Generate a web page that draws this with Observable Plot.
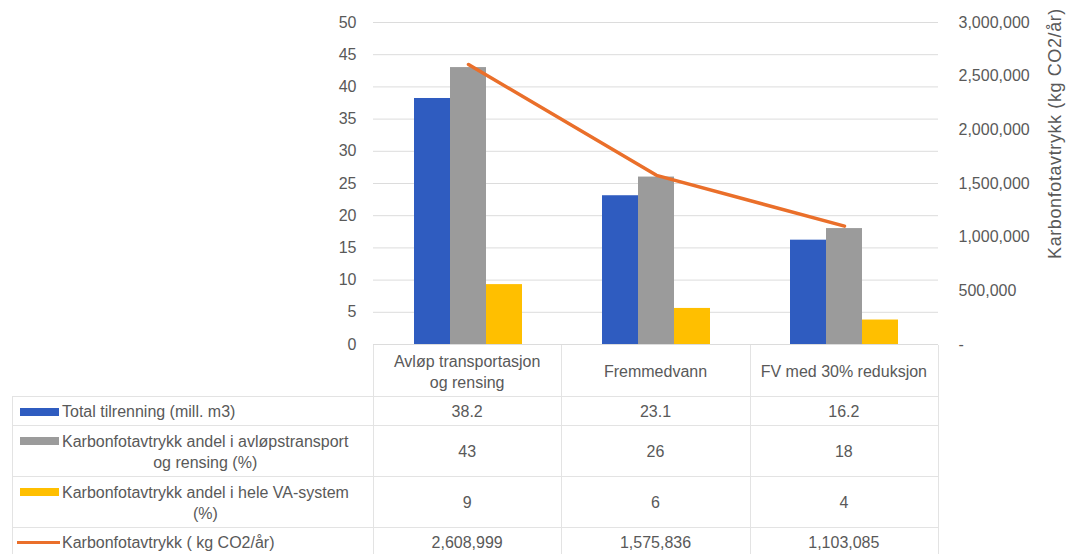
<!DOCTYPE html>
<html><head><meta charset="utf-8">
<script src="https://cdn.jsdelivr.net/npm/d3@7"></script>
<script src="https://cdn.jsdelivr.net/npm/@observablehq/plot@0.6"></script>
<style>
body{margin:0;background:#fff;font-family:"Liberation Sans",Arial,sans-serif;color:#595959;}
#wrap{position:relative;width:1066px;height:554px;overflow:hidden;background:#fff;}
.layer{position:absolute;left:0;top:0;}
.abs{position:absolute;}
.txt{position:absolute;font-size:16px;line-height:21px;white-space:pre;text-align:center;color:#595959;}
.hl{position:absolute;height:1px;background:#e3e3e3;}
.vl{position:absolute;width:1px;background:#e3e3e3;}
</style></head><body><div id="wrap"></div>
<script>
// ---- data ----
const categories = ["Avløp transportasjon\nog rensing", "Fremmedvann", "FV med 30% reduksjon"];
const seriesNames = [
  "Total tilrenning (mill. m3)",
  "Karbonfotavtrykk andel i avløpstransport\nog rensing (%)",
  "Karbonfotavtrykk andel i hele VA-system\n(%)",
  "Karbonfotavtrykk ( kg CO2/år)"
];
const totalTilrenning = [38.2, 23.1, 16.2];
const andelAvlopstransport = [43, 26, 18];
const andelHeleVA = [9.3, 5.6, 3.8];
const karbonfotavtrykk = [2608999, 1575836, 1103085];
const leftTicks = [0, 5, 10, 15, 20, 25, 30, 35, 40, 45, 50];
const rightTicks = [0, 500000, 1000000, 1500000, 2000000, 2500000, 3000000];
const rightAxisTitle = "Karbonfotavtrykk (kg CO2/år)";
const colors = ["#2f5cc0", "#9b9b9b", "#ffbf00", "#ea6f2a"];

// ---- layout ----
const W = 1066, H = 346;
const mL = 373, mR = 128, mT = 22, mB = 2;
const font = {background: "transparent", fontFamily: "Liberation Sans, Arial, sans-serif", fontSize: "16px", color: "#595959", overflow: "visible"};
const common = {width: W, height: H, marginTop: mT, marginBottom: mB, marginLeft: mL, marginRight: mR, style: font};

const barSeries = [totalTilrenning, andelAvlopstransport, andelHeleVA];
const barData = categories.flatMap((c, i) => barSeries.map((s, j) => ({cat: c, series: j, value: s[i]})));
const lineData = categories.map((c, i) => ({cat: c, value: karbonfotavtrykk[i]}));

const wrap = document.getElementById("wrap");

// Layer 1: grid + left axis
const p1 = Plot.plot({
  ...common,
  x: {domain: categories, axis: null},
  y: {domain: [0, 50], axis: null},
  marks: [
    Plot.ruleY(leftTicks, {stroke: "#dcdcdc", strokeWidth: 1}),
    Plot.axisY({ticks: leftTicks, anchor: "left", tickSize: 0, tickPadding: 17, label: null, fill: "#595959", fontSize: 16})
  ]
});
p1.classList.add("layer");
wrap.appendChild(p1);

// Layer 2: grouped bars (faceted)
const p2 = Plot.plot({
  ...common,
  fx: {domain: categories, paddingInner: 0.4265, paddingOuter: 0.2133, axis: null},
  x: {domain: [0, 1, 2], padding: 0, axis: null},
  y: {domain: [0, 50], axis: null},
  color: {domain: [0, 1, 2], range: colors.slice(0, 3)},
  marks: [
    Plot.barY(barData, {fx: "cat", x: "series", y: "value", fill: "series"})
  ]
});
p2.classList.add("layer");
wrap.appendChild(p2);

// Layer 3: line + right axis
const p3 = Plot.plot({
  ...common,
  x: {type: "point", domain: categories, padding: 0.5, axis: null},
  y: {domain: [0, 3000000], axis: null},
  marks: [
    Plot.axisY({ticks: rightTicks, anchor: "right", tickSize: 0, tickPadding: 20, label: null, fill: "#595959", fontSize: 16,
      textAnchor: "start", tickFormat: d => d === 0 ? "-" : d3.format(",")(d)}),
    Plot.line(lineData, {x: "cat", y: "value", stroke: colors[3], strokeWidth: 3.5})
  ]
});
p3.classList.add("layer");
wrap.appendChild(p3);

// Right axis title
const t = document.createElement("div");
t.className = "txt";
t.style.fontSize = "18px";
t.style.letterSpacing = "0.6px";
t.textContent = rightAxisTitle;
wrap.appendChild(t);
const tw = t.getBoundingClientRect().width, th = t.getBoundingClientRect().height;
t.style.left = (1055 - tw / 2) + "px";
t.style.top = (133 - th / 2) + "px";
t.style.transform = "rotate(-90deg)";

// ---- data table ----
const tableLeft = 12, colX0 = mL, colW = (W - mR - mL) / 3;
const rowY = [345, 396, 425, 476, 527, 556];
const lineH = 21;
function add(cls, css) { const d = document.createElement("div"); d.className = cls; Object.assign(d.style, css); wrap.appendChild(d); return d; }
// grid lines
for (let r = 1; r < rowY.length; r++) add("hl", {left: tableLeft + "px", top: rowY[r] + "px", width: (W - mR - tableLeft) + "px"});
for (let c = 0; c <= 3; c++) add("vl", {left: (colX0 + c * colW) + "px", top: rowY[0] + "px", height: (rowY[5] - rowY[0]) + "px"});
add("vl", {left: tableLeft + "px", top: rowY[1] + "px", height: (rowY[5] - rowY[1]) + "px"});

function centeredText(str, cx, cy) {
  const d = add("txt", {});
  d.textContent = str;
  const r = d.getBoundingClientRect();
  d.style.left = (cx - r.width / 2) + "px";
  d.style.top = (cy - r.height / 2) + "px";
  return d;
}
// header: categories
categories.forEach((c, i) => centeredText(c, colX0 + (i + 0.5) * colW, (rowY[0] + rowY[1]) / 2 + 1));
// rows
const rowValues = [
  totalTilrenning.map(d3.format(".1f")),
  andelAvlopstransport.map(d3.format(".0f")),
  andelHeleVA.map(d3.format(".0f")),
  karbonfotavtrykk.map(d3.format(","))
];
rowValues.forEach((vals, r) => {
  const top = rowY[r + 1], bot = rowY[r + 2], cy = (top + bot) / 2 + 1;
  vals.forEach((v, i) => centeredText(v, colX0 + (i + 0.5) * colW, cy));
  // legend label
  const name = seriesNames[r];
  const nLines = name.split("\n").length;
  const d = add("txt", {});
  d.textContent = name;
  const rr = d.getBoundingClientRect();
  d.style.left = "62px";
  d.style.top = (cy - rr.height / 2) + "px";
  const firstLineC = cy - (nLines * lineH) / 2 + lineH / 2;
  if (r < 3) add("abs", {left: "20px", width: "39px", height: "8px", top: (firstLineC - 4) + "px", background: colors[r]});
  else add("abs", {left: "17px", width: "43px", height: "3px", top: (firstLineC - 1.5) + "px", background: colors[r]});
});
</script></body></html>
